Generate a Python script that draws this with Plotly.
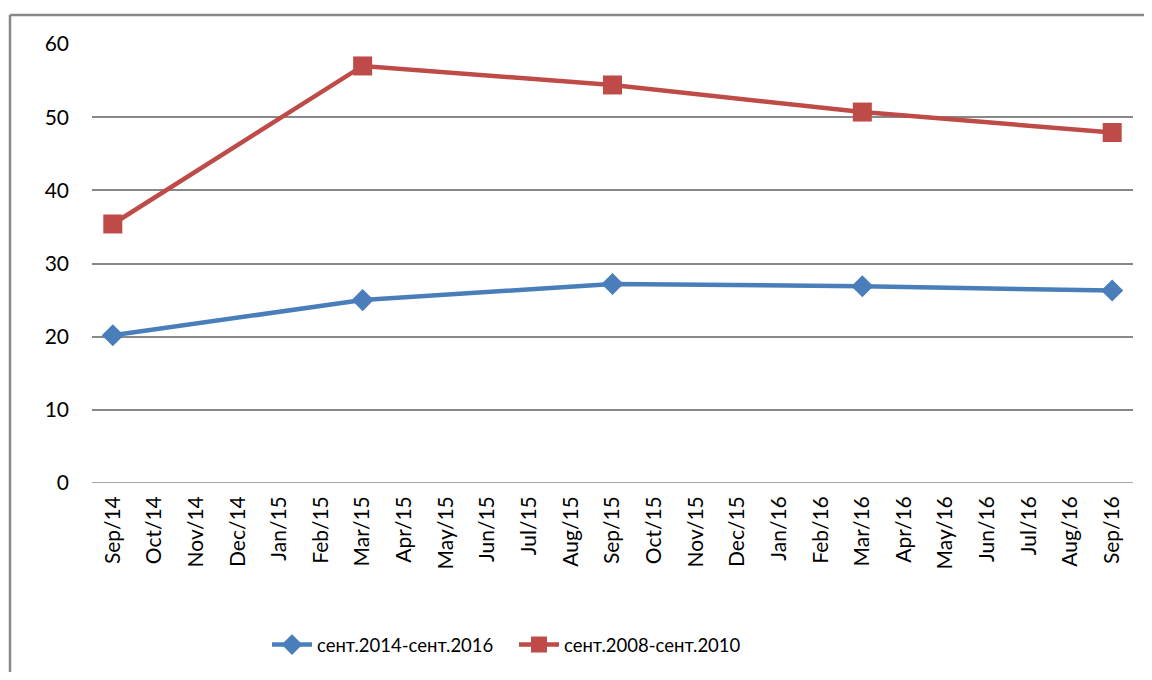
import plotly.graph_objects as go

months = ["Sep/14", "Oct/14", "Nov/14", "Dec/14", "Jan/15", "Feb/15", "Mar/15", "Apr/15",
          "May/15", "Jun/15", "Jul/15", "Aug/15", "Sep/15", "Oct/15", "Nov/15", "Dec/15",
          "Jan/16", "Feb/16", "Mar/16", "Apr/16", "May/16", "Jun/16", "Jul/16", "Aug/16", "Sep/16"]
point_months = ["Sep/14", "Mar/15", "Sep/15", "Mar/16", "Sep/16"]
blue_name = "сент.2014-сент.2016"
blue_values = [20.2, 25.0, 27.2, 26.9, 26.3]
red_name = "сент.2008-сент.2010"
red_values = [35.4, 57.0, 54.4, 50.7, 47.9]
y_ticks = [0, 10, 20, 30, 40, 50, 60]

FONT = "Lato, Carlito, Calibri, sans-serif"

fig = go.Figure()
fig.add_trace(go.Scatter(
    x=point_months, y=blue_values, name=blue_name, mode="lines+markers",
    line=dict(color="#4A7EBB", width=4.5),
    marker=dict(symbol="diamond", size=17, color="#4A7EBB"),
))
fig.add_trace(go.Scatter(
    x=point_months, y=red_values, name=red_name, mode="lines+markers",
    line=dict(color="#BE4B48", width=4.5),
    marker=dict(symbol="square", size=19, color="#BE4B48"),
))

# page has an 8px body margin; figure is sized to fit the 1152x680 window
W, H = 1136, 664
L, R, T, B = 84, 11, 36, 189
pw, ph = W - L - R, H - T - B

bx = (2 - L) / pw
by = (H - 7 - B) / ph

fig.update_layout(
    width=W, height=H,
    margin=dict(l=L, r=R, t=T, b=B, autoexpand=False),
    paper_bgcolor="white", plot_bgcolor="white",
    font=dict(family=FONT, size=21, color="black"),
    showlegend=True,
    legend=dict(orientation="h", x=(506 - L) / pw, xanchor="center", y=(H - 637 - B) / ph,
                yanchor="middle", font=dict(size=18.5), itemwidth=40, tracegroupgap=0,
                entrywidth=192),
    xaxis=dict(type="category", categoryorder="array", categoryarray=months,
               range=[-0.5, len(months) - 0.5], tickangle=-90, showgrid=False,
               showline=False, zeroline=False, ticks="", ticklabelstandoff=8,
               tickmode="array", tickvals=months, ticktext=months),
    yaxis=dict(range=[0, 60], tickvals=y_ticks, showgrid=True, gridcolor="#888888",
               gridwidth=1.5, zeroline=False, showline=False, ticks="", ticklabelstandoff=22),
    shapes=[
        dict(type="line", xref="paper", yref="paper",
             x0=bx, x1=bx, y0=by, y1=-1,
             line=dict(color="#888888", width=2.5)),
        dict(type="line", xref="paper", yref="paper",
             x0=bx, x1=1.2, y0=by, y1=by,
             line=dict(color="#888888", width=2.5)),
        dict(type="line", xref="paper", yref="y", x0=0, x1=1, y0=0, y1=0,
             line=dict(color="#888888", width=1.5), layer="below"),
    ],
)

fig.write_html("out.html")
